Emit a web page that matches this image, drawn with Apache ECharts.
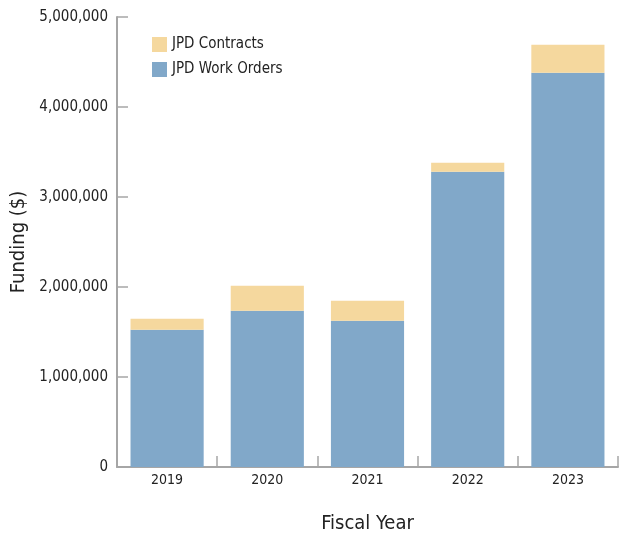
<!DOCTYPE html>
<html><head><meta charset="utf-8">
<script src="https://cdn.jsdelivr.net/npm/echarts@6/dist/echarts.min.js"></script>
<style>html,body{margin:0;padding:0;background:#fff}#c{width:621px;height:535px}</style>
</head><body><div id="c"></div>
<script>
var categories = ['2019', '2020', '2021', '2022', '2023'];
var workOrders = [1526000, 1737000, 1626000, 3281000, 4381000];
var contracts = [122000, 277000, 222000, 100000, 311000];
var yTicks = { min: 0, max: 5000000, interval: 1000000 };

var FONT = '"DejaVu Sans Condensed", "Liberation Sans Narrow", sans-serif';
var chart = echarts.init(document.getElementById('c'), null, { renderer: 'canvas' });
var axisColor = '#a6a6a6';
chart.setOption({
  animation: false,
  textStyle: { fontFamily: FONT, color: '#222' },
  grid: { left: 117, right: 3, top: 17, bottom: 68, containLabel: false, outerBoundsMode: 'none' },
  legend: {
    orient: 'vertical', left: 147, top: 32, itemWidth: 15, itemHeight: 15, itemGap: 10,
    icon: 'rect',
    data: ['JPD Contracts', 'JPD Work Orders'],
    textStyle: { fontFamily: FONT, fontSize: 15, color: '#222' }
  },
  xAxis: {
    type: 'category', data: categories,
    name: 'Fiscal Year', nameLocation: 'middle', nameGap: 47,
    nameTextStyle: { fontFamily: FONT, fontSize: 20, color: '#222' },
    axisLine: { lineStyle: { color: axisColor, width: 2 } },
    axisTick: { show: true, interval: 0, inside: true, length: 11, lineStyle: { color: axisColor, width: 1.5 } },
    axisLabel: { fontFamily: FONT, fontSize: 14, color: '#222', margin: 6 }
  },
  yAxis: {
    type: 'value', min: yTicks.min, max: yTicks.max, interval: yTicks.interval,
    name: 'Funding ($)', nameLocation: 'middle', nameGap: 82, nameRotate: 90,
    nameTextStyle: { fontFamily: FONT, fontSize: 20, color: '#222' },
    axisLine: { show: true, lineStyle: { color: axisColor, width: 2 } },
    axisTick: { show: true, inside: true, length: 11, lineStyle: { color: axisColor, width: 1.5 } },
    splitLine: { show: false },
    axisLabel: { fontFamily: FONT, fontSize: 15, color: '#222', margin: 9,
      formatter: function (v) { return v.toLocaleString('en-US'); } }
  },
  series: [
    { name: 'JPD Work Orders', type: 'bar', stack: 'a', data: workOrders, barWidth: '73%',
      itemStyle: { color: '#81a8c9' } },
    { name: 'JPD Contracts', type: 'bar', stack: 'a', data: contracts, barWidth: '73%',
      itemStyle: { color: '#f5d89e' } }
  ]
});
</script></body></html>
